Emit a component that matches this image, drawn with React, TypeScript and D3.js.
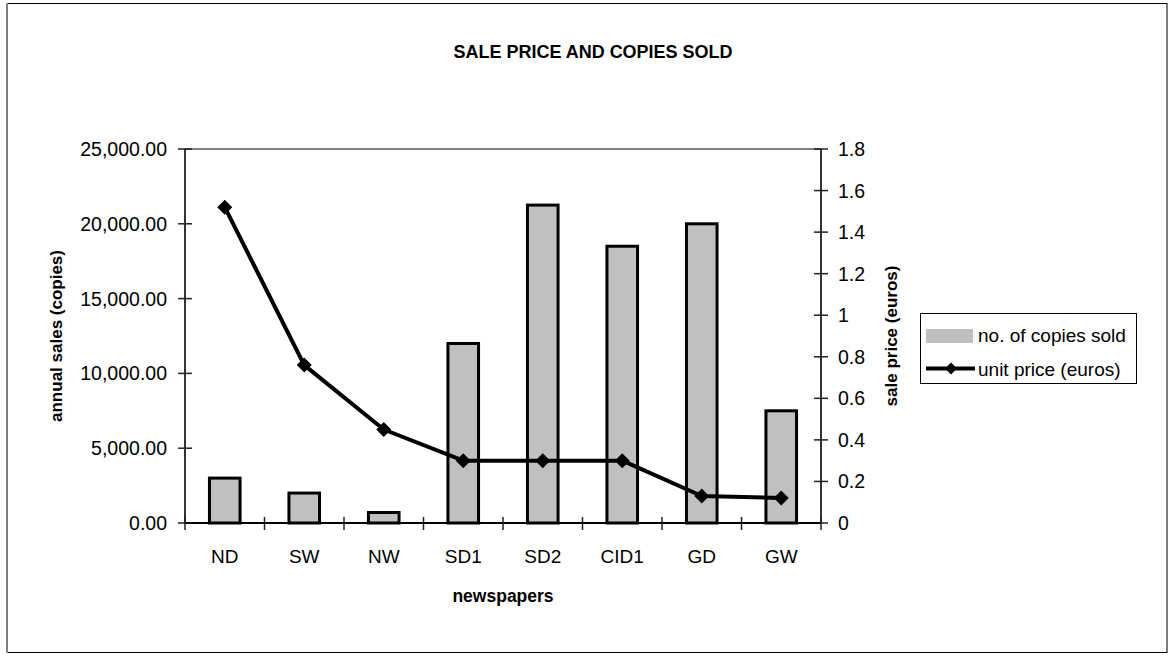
import React from "react";
import * as d3 from "d3";

// Newspaper titles along the category axis
const newspapers = ["ND", "SW", "NW", "SD1", "SD2", "CID1", "GD", "GW"];
// Annual sales per title (copies)
const copiesSold = [3000, 2000, 700, 12000, 21250, 18500, 20000, 7500];
// Unit price per title (euros)
const unitPrice = [1.52, 0.76, 0.45, 0.3, 0.3, 0.3, 0.13, 0.12];
// Axis tick values
const salesTicks = [0, 5000, 10000, 15000, 20000, 25000];
const priceTicks = [0, 0.2, 0.4, 0.6, 0.8, 1, 1.2, 1.4, 1.6, 1.8];

const W = 1171;
const H = 656;
const plot = { left: 185, right: 821, top: 149, bottom: 523 };
const FONT = "'Liberation Sans', Arial, sans-serif";

export default function App() {
  const x = d3
    .scaleBand<string>()
    .domain(newspapers)
    .range([plot.left, plot.right])
    .padding(0);
  const ySales = d3.scaleLinear().domain([0, 25000]).range([plot.bottom, plot.top]);
  const yPrice = d3.scaleLinear().domain([0, 1.8]).range([plot.bottom, plot.top]);
  const fmtSales = d3.format(",.2f");
  const fmtPrice = d3.format(".1~f");

  const bw = x.bandwidth();
  const barW = bw * 0.385;
  const cx = (n: string) => (x(n) as number) + bw / 2;

  const line = d3
    .line<number>()
    .x((_, i) => cx(newspapers[i]))
    .y((d) => yPrice(d));

  const diamond = (r: number) => `M0,${-r}L${r},0L0,${r}L${-r},0Z`;

  const boundaries = newspapers.map((n) => x(n) as number).concat([plot.right]);

  return (
    <svg
      width={W}
      height={H}
      style={{ position: "absolute", left: 0, top: 0, background: "#fff" }}
      fontFamily={FONT}
    >
      {/* chart frame */}
      <rect x={7} y={3.5} width={1160} height={649} fill="#fff" stroke="#000" strokeWidth={1} />
      <line x1={7} y1={3} x2={7} y2={653} stroke="#808080" strokeWidth={2} />

      {/* title */}
      <text
        x={593}
        y={58}
        textAnchor="middle"
        fontWeight="bold"
        fontSize={19}
        textLength={279}
        lengthAdjust="spacingAndGlyphs"
      >
        SALE PRICE AND COPIES SOLD
      </text>

      {/* plot top border */}
      <line x1={plot.left} y1={plot.top} x2={plot.right} y2={plot.top} stroke="#808080" strokeWidth={2} />

      {/* bars */}
      {newspapers.map((n, i) => (
        <rect
          key={n}
          x={cx(n) - barW / 2}
          y={ySales(copiesSold[i])}
          width={barW}
          height={plot.bottom - ySales(copiesSold[i])}
          fill="#c0c0c0"
          stroke="#000"
          strokeWidth={3}
        />
      ))}

      {/* left axis */}
      <line x1={plot.left} y1={plot.top} x2={plot.left} y2={plot.bottom} stroke="#333" strokeWidth={2} />
      {salesTicks.map((t) => (
        <g key={t}>
          <line x1={plot.left - 7} x2={plot.left + 7} y1={ySales(t)} y2={ySales(t)} stroke="#222" strokeWidth={1.5} />
          <text x={plot.left - 18} y={ySales(t)} dy="0.36em" textAnchor="end" fontSize={19.5}>
            {fmtSales(t)}
          </text>
        </g>
      ))}

      {/* right axis */}
      <line x1={plot.right} y1={plot.top} x2={plot.right} y2={plot.bottom} stroke="#333" strokeWidth={2} />
      {priceTicks.map((t) => (
        <g key={t}>
          <line x1={plot.right - 7} x2={plot.right + 7} y1={yPrice(t)} y2={yPrice(t)} stroke="#222" strokeWidth={1.5} />
          <text x={plot.right + 17} y={yPrice(t)} dy="0.36em" textAnchor="start" fontSize={19.5}>
            {fmtPrice(t)}
          </text>
        </g>
      ))}

      {/* category axis */}
      <line x1={plot.left} y1={plot.bottom} x2={plot.right} y2={plot.bottom} stroke="#000" strokeWidth={2} />
      {boundaries.map((b, i) => (
        <line key={i} x1={b} x2={b} y1={plot.bottom - 6} y2={plot.bottom + 7} stroke="#222" strokeWidth={1.5} />
      ))}
      {newspapers.map((n) => (
        <text key={n} x={cx(n)} y={563} textAnchor="middle" fontSize={19}>
          {n}
        </text>
      ))}

      {/* price line */}
      <path d={line(unitPrice) || ""} fill="none" stroke="#000" strokeWidth={4} strokeLinejoin="round" />
      {unitPrice.map((p, i) => (
        <path
          key={i}
          d={diamond(7.5)}
          transform={`translate(${cx(newspapers[i])},${yPrice(p)})`}
          fill="#000"
        />
      ))}

      {/* axis titles */}
      <text
        transform={`translate(62,${(plot.top + plot.bottom) / 2}) rotate(-90)`}
        textAnchor="middle"
        fontWeight="bold"
        fontSize={17}
      >
        annual sales (copies)
      </text>
      <text
        transform={`translate(897,${(plot.top + plot.bottom) / 2}) rotate(-90)`}
        textAnchor="middle"
        fontWeight="bold"
        fontSize={17}
      >
        sale price (euros)
      </text>
      <text x={(plot.left + plot.right) / 2} y={602} textAnchor="middle" fontWeight="bold" fontSize={17.5}>
        newspapers
      </text>

      {/* legend */}
      <rect x={920.5} y={313.5} width={216} height={70} fill="#fff" stroke="#000" strokeWidth={1} />
      <rect x={926} y={329} width={47} height={14} fill="#c0c0c0" />
      <text x={978} y={342} fontSize={19}>
        no. of copies sold
      </text>
      <line x1={926} x2={975} y1={368.5} y2={368.5} stroke="#000" strokeWidth={4} />
      <path d={diamond(6)} transform="translate(951,368.5)" fill="#000" />
      <text x={978} y={376} fontSize={19}>
        unit price (euros)
      </text>
    </svg>
  );
}
